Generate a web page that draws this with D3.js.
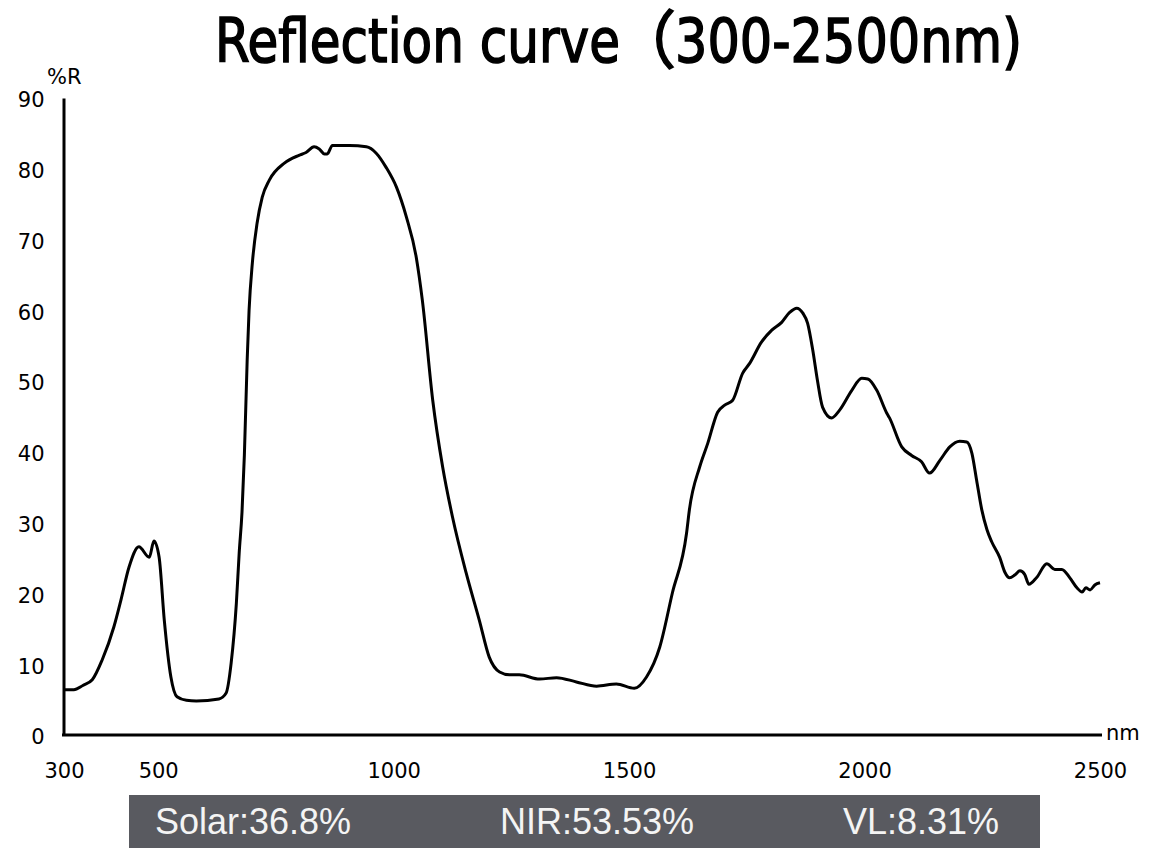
<!DOCTYPE html>
<html>
<head>
<meta charset="utf-8">
<script src="https://cdn.jsdelivr.net/npm/d3@7"></script>
<style>
  body { margin: 0; background: #fff; }
  svg { display: block; }
</style>
</head>
<body>
<svg id="chart" width="1151" height="861"></svg>
<script>
// wavelength (nm) and reflectance (%R)
var wavelength = [300, 321, 340, 360, 381, 406, 421, 438, 459, 481, 491, 502, 513, 527, 540, 560, 581, 629, 644, 655, 666, 672, 678, 683, 689, 693, 700, 710, 721, 736, 768, 799, 814, 831, 842, 853, 859, 870, 906, 942, 963, 984, 1006, 1027, 1048, 1061, 1083, 1104, 1125, 1154, 1182, 1203, 1225, 1246, 1267, 1310, 1346, 1388, 1431, 1473, 1511, 1537, 1565, 1592, 1622, 1628, 1650, 1667, 1688, 1703, 1720, 1741, 1756, 1781, 1803, 1824, 1841, 1856, 1869, 1879, 1890, 1900, 1911, 1930, 1947, 1973, 1994, 2007, 2026, 2047, 2053, 2079, 2100, 2121, 2138, 2160, 2181, 2202, 2217, 2228, 2238, 2249, 2260, 2270, 2287, 2298, 2308, 2319, 2330, 2340, 2349, 2366, 2387, 2404, 2419, 2436, 2451, 2462, 2470, 2479, 2489, 2500];
var reflect = [6.4, 6.4, 7.0, 7.8, 10.6, 15.3, 19.1, 23.7, 26.6, 25.1, 27.4, 25.1, 16.2, 8.2, 5.4, 4.9, 4.8, 5.1, 5.9, 10.2, 18.6, 25.7, 31.5, 39.5, 53, 60, 66.7, 72.3, 76, 78.4, 80.8, 81.9, 82.3, 83.1, 82.8, 82.1, 82.1, 83.3, 83.3, 83.1, 82.2, 80.2, 77.4, 73.2, 67.5, 61.4, 47.3, 37.9, 30.8, 22.9, 16.2, 11.0, 8.9, 8.5, 8.5, 7.9, 8.1, 7.5, 6.9, 7.2, 6.6, 8.2, 12.4, 20.1, 28.5, 31.8, 37.9, 41.2, 45.6, 46.6, 47.3, 51.1, 52.5, 55.5, 57.2, 58.3, 59.7, 60.3, 59.6, 58.2, 54.4, 50.1, 46.3, 44.8, 45.9, 48.7, 50.4, 50.3, 48.7, 45.5, 44.8, 40.7, 39.5, 38.6, 37, 38.8, 40.7, 41.5, 41.4, 39.8, 36, 31.8, 29, 27.3, 25.1, 23, 22.2, 22.6, 23.2, 22.7, 21.3, 22.3, 24.2, 23.4, 23.4, 22.2, 20.8, 20.2, 20.8, 20.5, 21.2, 21.5];

var xTicks = [300, 500, 1000, 1500, 2000, 2500];
var yTicks = [0, 10, 20, 30, 40, 50, 60, 70, 80, 90];

var statLabels = ["Solar:36.8%", "NIR:53.53%", "VL:8.31%"];

var svg = d3.select("#chart");

var x = d3.scaleLinear().domain([300, 2500]).range([64, 1100]);
var y = d3.scaleLinear().domain([0, 90]).range([735, 98]);

var labelFont = "DejaVu Sans, Verdana, sans-serif";

// title (full-width bracket set in the CJK font, rest in DejaVu)
var title = svg.append("text")
    .attr("y", 62)
    .style("font-family", labelFont)
    .style("font-size", "60px")
    .style("fill", "#000")
    .style("stroke", "#000")
    .style("stroke-width", 1.6);
title.append("tspan")
    .attr("x", 215)
    .attr("textLength", 405)
    .attr("lengthAdjust", "spacingAndGlyphs")
    .text("Reflection curve");
title.append("tspan")
    .attr("x", 613)
    .style("font-family", "Noto Sans CJK JP, sans-serif")
    .style("font-size", "63px")
    .text("（");
title.append("tspan")
    .attr("x", 675)
    .attr("textLength", 347)
    .attr("lengthAdjust", "spacingAndGlyphs")
    .text("300-2500nm)");

// y axis
var yAxis = svg.append("g")
    .attr("transform", "translate(63.5,0)")
    .call(d3.axisLeft(y).tickValues(yTicks).tickSize(0).tickSizeOuter(0).tickPadding(19));
yAxis.select(".domain").attr("stroke", "#000").attr("stroke-width", 3);
yAxis.selectAll("text")
    .attr("dy", "0.42em")
    .style("font-family", labelFont)
    .style("font-size", "21px")
    .style("fill", "#000");

// x axis
var xAxis = svg.append("g")
    .attr("transform", "translate(0,735)")
    .call(d3.axisBottom(x).tickValues(xTicks).tickFormat(d3.format("d")).tickSize(0).tickSizeOuter(0));
xAxis.select(".domain")
    .attr("d", "M" + (x(300) - 2) + ",0H" + (x(2500) + 2))
    .attr("stroke", "#000").attr("stroke-width", 3);
xAxis.selectAll("text")
    .attr("dy", "0")
    .attr("y", 43)
    .style("font-family", labelFont)
    .style("font-size", "21px")
    .style("fill", "#000");

// axis unit labels
svg.append("text")
    .attr("x", 47).attr("y", 84)
    .style("font-family", labelFont).style("font-size", "21px")
    .text("%R");
svg.append("text")
    .attr("x", 1106).attr("y", 740)
    .style("font-family", labelFont).style("font-size", "21px")
    .text("nm");

// curve
var points = wavelength.map(function(w, i) { return {w: w, r: reflect[i]}; });
var line = d3.line()
    .x(function(d) { return x(d.w); })
    .y(function(d) { return y(d.r); })
    .curve(d3.curveMonotoneX);

svg.append("path")
    .datum(points)
    .attr("d", line)
    .attr("fill", "none")
    .attr("stroke", "#000")
    .attr("stroke-width", 3)
    .attr("stroke-linejoin", "round");

// summary bar
svg.append("rect")
    .attr("x", 129).attr("y", 795)
    .attr("width", 911).attr("height", 53)
    .attr("fill", "#595a60");

var statX = [155, 500, 843];
svg.selectAll(".stat")
    .data(statLabels)
    .enter().append("text")
    .attr("class", "stat")
    .attr("x", function(d, i) { return statX[i]; })
    .attr("y", 834)
    .style("font-family", "Liberation Sans, Arial, sans-serif")
    .style("font-size", "36px")
    .style("fill", "#f4f4f4")
    .text(function(d) { return d; });
</script>
</body>
</html>
